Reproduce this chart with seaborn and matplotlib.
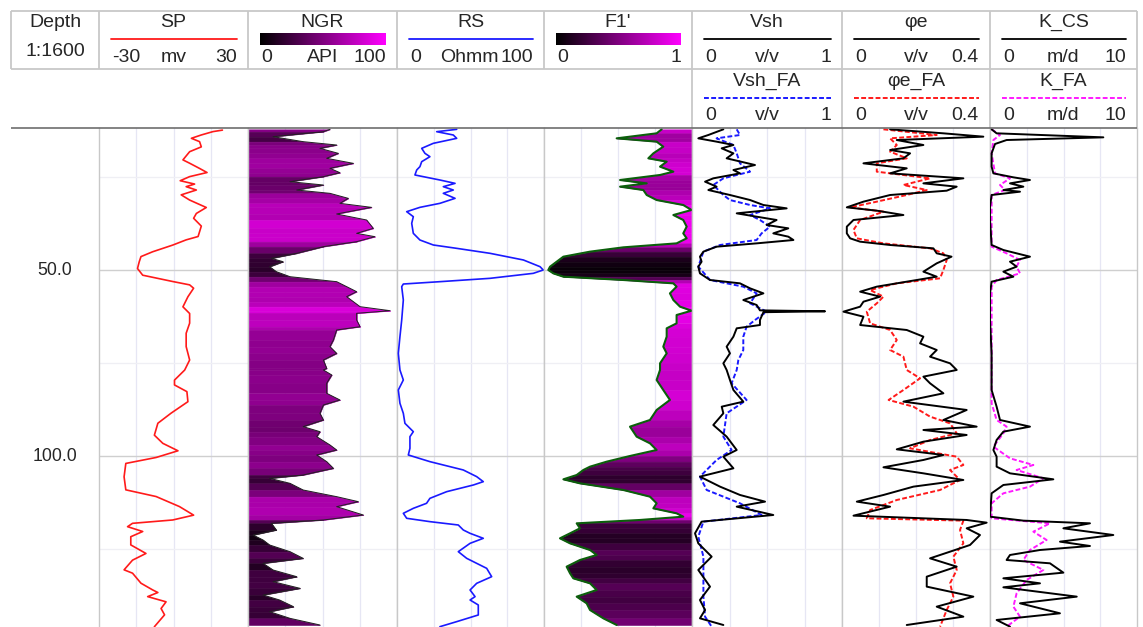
import numpy as np
import pandas as pd
import matplotlib
matplotlib.use("Agg")
import matplotlib.pyplot as plt
from matplotlib.colors import LinearSegmentedColormap, Normalize
import seaborn as sns

sns.set_theme(style="white")
plt.rcParams["font.family"] = ["Liberation Sans", "DejaVu Sans"]

# ---------------- log curves (depth in m) ----------------
sp_depth = [12.4, 12.8, 13.7, 14.6, 15.5, 16.9, 18.2, 20.4, 21.3, 22.7, 23.8, 24.9, 26.0, 26.9, 27.6,
            28.5, 29.8, 31.2, 33.2, 34.8, 36.1, 38.2, 41.0, 41.9, 43.3, 45.1, 46.4, 47.8, 49.6, 51.4,
            53.1, 54.0, 54.9, 57.2, 59.9, 61.7, 64.3, 67.0, 70.6, 74.2, 76.9, 79.6, 80.9, 82.7, 85.4,
            88.5, 91.2, 94.4, 96.6, 98.6, 100.4, 102.0, 105.6, 109.1, 110.9, 113.6, 115.9, 117.2, 118.1,
            119.0, 120.3, 121.7, 123.9, 126.2, 128.0, 130.6, 131.5, 134.2, 136.0, 136.7, 137.8, 139.2,
            141.0, 142.7, 145.9]
sp_mv = [19.7, 15.9, 11.2, 7.2, 10.5, 11.2, 6.5, 3.8, 6.5, 10.5, 13.5, 6.5, 2.7, 8.5, 5.1,
         9.2, 3.1, 6.5, 13.2, 9.2, 8.1, 11.2, 9.9, 5.1, -0.3, -8.4, -13.1, -13.8, -14.5, -12.4,
         -0.3, 6.5, 8.1, 5.8, 3.8, 6.5, 6.5, 5.1, 5.1, 6.5, 4.5, 0.4, 0.4, 5.4, 5.8,
         -1.0, -6.3, -7.7, -4.3, 1.8, -7.0, -19.2, -19.9, -19.2, -7.0, 2.4, 8.1, -0.3, -16.5,
         -18.5, -12.4, -17.2, -17.2, -11.1, -16.5, -19.9, -16.5, -13.1, -8.4, -6.3, -10.4, -3.0,
         -5.0, -3.6, -7.7]

ngr_depth = [12.19, 12.82, 14.16, 15.5, 16.4, 17.3, 18.64, 19.98, 21.33, 22.67, 23.84, 24.91, 26.26,
             27.15, 28.5, 29.39, 30.74, 32.08, 33.16, 34.95, 36.56, 38.8, 40.15, 41.04, 42.39, 43.73,
             45.52, 46.87, 47.76, 49.11, 50.45, 51.8, 53.14, 54.48, 55.83, 57.17, 58.52, 59.86, 60.94,
             61.65, 63.45, 65.24, 66.13, 68.82, 70.61, 72.41, 74.2, 76.44,
             76.88, 78.22, 80.46, 83.15, 84.94, 86.29, 88.53, 90.32, 92.11, 93.46, 94.8, 97.04, 98.39,
             99.73, 101.52, 103.31, 105.11, 106.0, 107.35, 109.14, 110.93, 112.27, 113.62, 115.86,
             117.2, 118.1, 119.89, 121.24, 122.58, 123.92, 125.72, 127.51, 128.85, 130.64, 132.44,
             133.78, 135.57, 137.37, 138.71, 140.5, 141.85, 143.64, 145.43]
ngr_api = [55.0, 50.6, 16.8, 37.0, 59.5, 48.3, 60.6, 52.8, 70.7, 55.0, 61.7, 50.6, 28.2,
           50.6, 32.7, 55.0, 67.3, 61.7, 82.9, 59.5, 79.6, 84.1, 72.9, 85.2, 72.9, 50.6,
           32.7, 15.7, 23.5, 14.5, 19.0, 28.2, 59.5, 66.2, 72.9, 66.2, 70.7, 75.2, 95.4,
           72.9, 72.9, 75.2, 59.5, 57.3, 55.0, 59.5, 50.6, 52.8,
           50.6, 56.2, 52.8, 52.8, 61.7, 50.6, 48.3, 50.6, 37.0, 48.3, 46.1, 55.0, 59.5,
           46.1, 52.8, 57.3, 37.0, 14.5, 28.2, 37.0, 59.5, 74.0, 59.5, 77.4,
           50.6, 15.7, 19.0, 3.4, 10.1, 14.5, 28.2, 37.0, 10.1, 16.8, 32.7,
           16.8, 34.9, 10.1, 21.2, 30.5, 14.5, 28.2, 48.3]

rs_depth = [12.19, 12.82, 13.71, 14.61, 15.95, 17.3, 18.64, 19.54, 20.88, 22.22, 23.12, 24.46, 25.81,
            26.71, 27.6, 28.5, 29.39, 30.74, 32.08, 33.16, 34.32, 35.67, 37.46, 40.15, 41.94, 43.28,
            44.18, 45.52, 47.31, 49.11, 50.0, 50.9, 52.24, 53.14, 53.77, 54.48, 58.07, 63.45, 67.92,
            72.41,
            76.88, 79.57, 82.26, 85.84, 88.53, 91.22, 93.46, 94.8, 97.94, 99.73, 101.52, 103.76,
            105.55, 106.9, 107.79, 109.59, 111.38, 112.72, 114.07, 115.41, 116.75, 117.65, 118.55,
            119.89, 120.79, 122.13, 123.48, 125.72, 127.51, 130.2, 132.44, 134.23, 136.02, 137.81,
            138.71, 140.05, 142.74, 144.53, 145.88]
rs_ohmm = [40.6, 27.0, 38.3, 40.6, 24.7, 16.8, 19.0, 22.4, 16.8, 15.6, 13.4, 12.2, 29.2,
           39.5, 31.5, 38.3, 31.5, 39.5, 29.2, 15.6, 6.6, 11.1, 10.0, 11.1, 15.6, 24.7,
           40.6, 63.3, 86.0, 97.3, 99.5, 92.7, 63.3, 29.2, 4.3, 3.2, 4.3, 3.2, 2.0,
           0.9,
           2.0, 4.3, 0.9, 2.0, 4.3, 5.4, 11.1, 8.8, 8.8, 7.7, 22.4, 45.1,
           54.2, 58.7, 52.0, 33.8, 22.4, 20.1, 11.1, 4.3, 6.6, 22.4, 41.7,
           45.1, 49.7, 58.7, 49.7, 41.7, 47.4, 61.0, 64.4, 54.2, 49.7, 53.1,
           49.7, 55.3, 55.3, 40.6, 29.2]

f1_depth = [12.19, 13.26, 14.61, 15.5, 16.85, 18.64, 19.98, 20.88, 22.22, 23.57, 24.46, 25.81, 26.71,
            27.6, 28.5, 29.84, 31.19, 32.53, 33.87, 35.22, 36.56, 38.35, 40.15, 41.49, 42.84, 43.91,
            45.07, 46.42, 47.76, 49.11, 50.0, 50.9, 51.8, 52.69, 53.59, 54.48, 56.28, 58.07, 59.86,
            60.94, 62.1, 64.34, 65.68, 67.92, 70.61, 72.41, 75.09,
            76.88, 79.57, 82.26, 84.94, 87.63, 90.32, 92.11, 94.8, 96.59, 98.39, 100.0, 101.52,
            102.87, 103.76, 105.11, 106.27, 107.35, 109.14, 110.93, 112.72, 114.07, 115.41, 116.31,
            117.2, 118.1, 119.44, 120.79, 122.13, 123.48, 125.27, 126.61, 127.96, 129.75, 131.54,
            132.88, 134.23, 136.02, 137.81, 139.6, 141.4, 143.64, 145.43]
f1_val = [0.795, 0.761, 0.491, 0.761, 0.806, 0.739, 0.705, 0.829, 0.784, 0.874, 0.784, 0.514, 0.694,
          0.514, 0.671, 0.694, 0.761, 0.941, 0.997, 0.874, 0.941, 0.964, 0.941, 0.964, 0.896, 0.536,
          0.311, 0.131, 0.086, 0.041, 0.029, 0.063, 0.131, 0.536, 0.874, 0.896, 0.851, 0.874, 0.919,
          0.997, 0.896, 0.896, 0.829, 0.829, 0.806, 0.829, 0.784,
          0.784, 0.761, 0.806, 0.851, 0.761, 0.716, 0.581, 0.626, 0.716, 0.761, 0.581, 0.424,
          0.311, 0.266, 0.221, 0.131, 0.243, 0.536, 0.716, 0.761, 0.739, 0.896, 0.941,
          0.649, 0.221, 0.243, 0.176, 0.108, 0.176, 0.311, 0.356, 0.243, 0.153, 0.176,
          0.198, 0.311, 0.356, 0.221, 0.288, 0.311, 0.401, 0.491]

vsh_depth = [12.19, 13.71, 14.61, 15.5, 16.4, 17.3, 18.64, 19.98, 21.78, 23.12, 24.02, 25.36, 26.26,
             27.6, 28.5, 29.84, 31.19, 32.53, 33.43, 34.77, 35.67, 36.56, 37.91, 38.8, 40.15, 41.04,
             41.94, 42.84, 43.73, 45.07, 46.42, 47.76, 49.11, 50.9, 52.69, 53.59, 54.93, 56.28, 58.07,
             59.41, 60.85, 61.1, 61.35, 63.45, 64.79, 65.68, 67.92, 70.61, 72.41, 75.09,
             76.88, 79.57, 82.26, 85.39, 86.74, 88.53, 91.67, 94.8, 98.39, 100.18, 103.31, 105.55,
             108.24, 110.48, 112.27, 113.62, 115.86, 117.65, 120.79, 123.48, 127.06, 130.64, 135.12,
             138.71, 141.4, 143.64, 145.43]
vsh_val = [0.209, 0.109, 0.042, 0.164, 0.276, 0.198, 0.276, 0.231, 0.42, 0.276, 0.32, 0.142, 0.087,
           0.164, 0.109, 0.253, 0.387, 0.476, 0.631, 0.298, 0.431, 0.564, 0.498, 0.642, 0.542, 0.642,
           0.676, 0.431, 0.164, 0.076, 0.053, 0.064, 0.042, 0.053, 0.12, 0.32, 0.387, 0.476, 0.342,
           0.431, 0.453, 0.887, 0.476, 0.453, 0.453, 0.298, 0.276, 0.231, 0.253, 0.209,
           0.231, 0.253, 0.276, 0.342, 0.198, 0.209, 0.142, 0.231, 0.298, 0.209, 0.276, 0.053,
           0.187, 0.32, 0.487, 0.298, 0.542, 0.064, 0.02, 0.042, 0.131, 0.042, 0.12,
           0.053, 0.087, 0.053, 0.209]

vshfa_depth = [12.19, 13.71, 14.61, 16.4, 18.64, 21.33, 23.57, 25.36, 27.15, 29.84, 31.19, 32.53,
               33.43, 35.22, 36.56, 38.35, 40.15, 41.94, 43.28, 45.07, 49.11, 52.69, 54.48, 56.28,
               58.96, 61.2, 63.45, 65.24, 67.92, 71.51, 74.2,
               76.88, 80.46, 84.94, 88.53, 94.8, 98.39, 101.07, 105.55, 109.14, 112.72, 115.86,
               117.65, 121.68, 127.06, 132.44, 137.81, 143.19, 145.88]
vshfa_val = [0.298, 0.32, 0.164, 0.276, 0.298, 0.32, 0.387, 0.209, 0.142, 0.209, 0.253, 0.387,
             0.52, 0.387, 0.453, 0.52, 0.464, 0.431, 0.187, 0.076, 0.042, 0.12, 0.342, 0.431,
             0.387, 0.498, 0.42, 0.364, 0.342, 0.342, 0.309,
             0.298, 0.264, 0.364, 0.231, 0.209, 0.264, 0.164, 0.053, 0.098, 0.32, 0.464,
             0.076, 0.042, 0.076, 0.076, 0.076, 0.087, 0.131]

phi_depth = [12.19, 13.26, 14.16, 15.06, 16.4, 17.74, 18.64, 19.98, 21.33, 22.67, 24.02, 25.36, 26.71,
             27.6, 28.68, 29.84, 31.63, 33.16, 34.05, 35.22, 36.56, 38.35, 40.15, 41.49, 42.39, 43.28,
             44.18, 45.52, 46.42, 48.21, 50.45, 51.8, 53.14, 54.48, 55.83, 57.17, 58.52, 59.86, 61.2,
             62.55, 64.79, 66.13, 67.92, 69.72, 71.51, 73.3, 75.09,
             76.88, 78.67, 80.46, 83.15, 85.39, 87.63, 90.32, 92.11, 93.01, 94.35, 96.15, 98.21,
             99.73, 101.07, 103.04, 104.66, 106.45, 108.24, 110.48, 112.27, 113.62, 116.04, 117.2,
             117.92, 119.44, 121.24, 123.92, 125.72, 127.51, 129.75, 132.44, 135.12, 137.81, 140.5,
             143.19, 145.43]
phi_val = [0.13, 0.274, 0.382, 0.148, 0.22, 0.13, 0.184, 0.166, 0.058, 0.175, 0.13, 0.328, 0.22,
           0.31, 0.283, 0.13, 0.058, 0.013, 0.094, 0.166, 0.031, 0.013, 0.013, 0.022, 0.049, 0.13,
           0.247, 0.256, 0.296, 0.256, 0.22, 0.256, 0.175, 0.094, 0.049, 0.103, 0.058, 0.049, 0.004,
           0.058, 0.049, 0.175, 0.22, 0.211, 0.256, 0.238, 0.292,
           0.31, 0.22, 0.238, 0.274, 0.166, 0.337, 0.274, 0.364, 0.22, 0.337, 0.22, 0.148,
           0.274, 0.22, 0.112, 0.22, 0.328, 0.193, 0.112, 0.04, 0.13, 0.031, 0.337,
           0.391, 0.337, 0.373, 0.346, 0.292, 0.238, 0.31, 0.229, 0.229, 0.355, 0.256,
           0.328, 0.175]

phifa_depth = [12.19, 13.71, 14.61, 16.4, 18.19, 19.98, 21.33, 23.57, 25.36, 27.15, 28.5, 29.84,
               31.63, 33.16, 34.32, 36.56, 39.25, 41.49, 42.84, 44.18, 45.52, 47.31, 50.0, 52.24,
               53.59, 55.38, 57.17, 58.96, 61.2, 64.34, 66.13, 68.82, 71.51, 73.3,
               76.88, 79.12, 82.26, 84.94, 86.74, 89.42, 91.22, 93.91, 95.7, 97.94, 100.18, 102.42,
               103.76, 106.45, 109.14, 111.83, 114.52, 116.75, 117.38, 119.89, 123.48, 127.06,
               130.64, 134.23, 137.81, 141.4, 145.88]
phifa_val = [0.112, 0.256, 0.13, 0.148, 0.13, 0.175, 0.094, 0.094, 0.238, 0.166, 0.229, 0.175,
             0.094, 0.022, 0.112, 0.049, 0.031, 0.04, 0.112, 0.238, 0.274, 0.283, 0.274, 0.265,
             0.148, 0.076, 0.112, 0.094, 0.067, 0.076, 0.13, 0.148, 0.13, 0.166,
             0.175, 0.211, 0.166, 0.126, 0.193, 0.238, 0.292, 0.31, 0.238, 0.184, 0.31, 0.328,
             0.292, 0.319, 0.265, 0.148, 0.076, 0.067, 0.328, 0.319, 0.328, 0.301,
             0.31, 0.292, 0.301, 0.283, 0.265]

kcs_depth = [12.19, 13.26, 14.34, 15.06, 16.13, 18.64, 22.22, 24.02, 25.09, 25.81, 26.71, 27.6, 28.5,
             28.95, 29.84, 32.98, 36.56, 43.28, 44.63, 45.52, 46.42, 47.76, 49.11, 50.45, 51.8, 53.14,
             56.28, 63.45, 72.41,
             76.88, 82.26, 86.74, 90.32, 92.11, 93.46, 95.7, 98.39, 100.18, 102.87, 104.66, 106.27,
             107.79, 110.03, 116.31, 117.38, 118.1, 119.44, 121.24, 123.03, 124.19, 125.27, 126.61,
             127.96, 128.85, 131.36, 132.88, 134.23, 135.3, 137.81, 139.6, 142.29, 144.08, 145.88]
kcs_val = [0.11, 0.45, 7.71, 1.13, 0.34, 0.11, 0.11, 0.23, 1.59, 2.72, 1.36, 2.27, 0.91,
           2.04, 0.11, 0.0, 0.0, 0.11, 0.91, 1.81, 2.72, 1.36, 1.81, 0.91, 1.59, 0.11,
           0.0, 0.0, 0.11,
           0.11, 0.11, 0.45, 0.68, 2.72, 0.91, 0.45, 0.23, 0.45, 0.45, 1.36, 4.31,
           0.91, 0.11, 0.0, 2.27, 6.8, 4.99, 8.39, 4.76, 6.8, 3.4, 1.36,
           1.13, 4.08, 4.99, 0.91, 3.4, 0.91, 5.9, 2.04, 4.76, 0.45, 1.36]

kfa_depth = [12.19, 13.71, 15.06, 18.64, 24.02, 25.36, 27.15, 28.5, 29.84, 43.73, 45.52, 47.31,
             49.11, 50.9, 52.69, 54.48,
             76.88, 85.84, 90.32, 92.11, 93.91, 97.49, 100.63, 102.42, 103.76, 106.0, 108.24,
             110.03, 112.72, 116.75, 118.1, 120.34, 122.58, 125.27, 127.96, 130.64, 133.33,
             136.92, 140.5, 143.19, 145.88]
kfa_val = [0.11, 0.68, 0.23, 0.11, 0.34, 1.36, 0.68, 1.02, 0.11, 0.11, 1.13, 2.04,
           1.81, 2.04, 0.45, 0.11,
           0.11, 0.11, 0.45, 1.13, 0.91, 0.23, 1.36, 2.95, 1.81, 3.63, 2.72,
           0.91, 0.11, 0.11, 4.08, 2.95, 3.85, 2.72, 2.27, 3.63, 2.49,
           1.81, 1.59, 2.04, 1.13]

depth_ticks = [50.0, 100.0]

# ---------------- layout (pixels) ----------------
W, H = 1143, 627
LOG_TOP, LOG_BOT = 128, 627
D_TOP, D_BOT = 11.83, 145.97
HDR_TOP, HDR_MID = 10.7, 69
BORDER = "#c8c8c8"
GRID = "#e6e6f4"
FS = 14
FS_DEPTH = 12.7

cmap_bm = LinearSegmentedColormap.from_list("black_magenta", ["#000000", "#ff00ff"])

fig = plt.figure(figsize=(W / 100, H / 100), dpi=100)
fig.patch.set_facecolor("white")

hdr = fig.add_axes([0, 0, 1, 1], zorder=5)
hdr.set_xlim(0, W)
hdr.set_ylim(H, 0)
hdr.axis("off")
hdr.patch.set_alpha(0)


def track_axes(x0, x1, lim):
    ax = fig.add_axes([x0 / W, 0, (x1 - x0) / W, (LOG_BOT - LOG_TOP) / H], zorder=1)
    ax.set_xlim(*lim)
    ax.set_ylim(D_BOT, D_TOP)
    for s in ("top", "bottom"):
        ax.spines[s].set_visible(False)
    for s in ("left", "right"):
        ax.spines[s].set_color(BORDER)
        ax.spines[s].set_linewidth(1.0)
    step = (lim[1] - lim[0]) / 4
    for k in (1, 2, 3):
        ax.axvline(lim[0] + k * step, color=GRID, lw=0.9, zorder=0)
    for d in (25, 75, 125):
        ax.axhline(d, color="#efeff4", lw=0.9, zorder=0)
    for d in depth_ticks:
        ax.axhline(d, color="#cfcfcf", lw=1.0, zorder=0)
    return ax


def curve(ax, depth, vals, color, lw, ls="-"):
    df = pd.DataFrame({"depth": depth, "val": vals})
    sns.lineplot(data=df, x="val", y="depth", orient="y", sort=False, estimator=None,
                 color=color, linewidth=lw, linestyle=ls, ax=ax, zorder=3,
                 solid_joinstyle="round", dash_joinstyle="round")
    ax.set_xlabel("")
    ax.set_ylabel("")
    ax.set_xticks([])
    ax.set_yticks([])


def banded_fill(ax, depth, vals, vmax, to_right=False):
    norm = Normalize(0, vmax)
    for i in range(len(depth) - 1):
        c = cmap_bm(norm((vals[i] + vals[i + 1]) / 2))
        edge = [vmax, vmax] if to_right else [0, 0]
        ax.fill_betweenx([depth[i], depth[i + 1]], edge, [vals[i], vals[i + 1]],
                         facecolor=c, edgecolor=c, lw=0.4, zorder=2)


# SP
ax_sp = track_axes(99, 248, (-30, 30))
curve(ax_sp, sp_depth, sp_mv, "#ff1a1a", 1.2)
ax_sp.set_xlim(-30, 30); ax_sp.set_ylim(D_BOT, D_TOP)

# NGR
ax_ngr = track_axes(248, 397, (0, 100))
banded_fill(ax_ngr, ngr_depth, ngr_api, 100)
curve(ax_ngr, ngr_depth, ngr_api, "#222222", 0.7)
ax_ngr.set_xlim(0, 100); ax_ngr.set_ylim(D_BOT, D_TOP)

# RS
ax_rs = track_axes(397, 544, (0, 100))
curve(ax_rs, rs_depth, rs_ohmm, "#1a1aff", 1.2)
ax_rs.set_xlim(0, 100); ax_rs.set_ylim(D_BOT, D_TOP)

# F1'
ax_f1 = track_axes(544, 692, (0, 1))
banded_fill(ax_f1, f1_depth, f1_val, 1.0, to_right=True)
curve(ax_f1, f1_depth, f1_val, "#0b5e0b", 1.5)
ax_f1.set_xlim(0, 1); ax_f1.set_ylim(D_BOT, D_TOP)

# Vsh
ax_v = track_axes(692, 842, (0, 1))
curve(ax_v, vshfa_depth, vshfa_val, "#1a1aff", 1.4, (0, (2.5, 1.2)))
curve(ax_v, vsh_depth, vsh_val, "black", 1.4)
ax_v.set_xlim(0, 1); ax_v.set_ylim(D_BOT, D_TOP)

# phi_e
ax_p = track_axes(842, 990, (0, 0.4))
curve(ax_p, phifa_depth, phifa_val, "#ff1a1a", 1.4, (0, (2.5, 1.2)))
curve(ax_p, phi_depth, phi_val, "black", 1.4)
ax_p.set_xlim(0, 0.4); ax_p.set_ylim(D_BOT, D_TOP)

# permeability
ax_k = track_axes(990, 1137, (0, 10))
curve(ax_k, kfa_depth, kfa_val, "#ff1aff", 1.4, (0, (2.5, 1.2)))
curve(ax_k, kcs_depth, kcs_val, "black", 1.4)
ax_k.set_xlim(0, 10); ax_k.set_ylim(D_BOT, D_TOP)

# ---------------- header ----------------
def hline(x0, x1, y, **kw):
    hdr.plot([x0, x1], [y, y], **kw)


def vline(x, y0, y1, **kw):
    hdr.plot([x, x], [y0, y1], **kw)


bkw = dict(color=BORDER, lw=1.3, solid_capstyle="butt")
hline(11, 1137, HDR_TOP, **bkw)
hline(11, 1137, HDR_MID, **bkw)
vline(11, HDR_TOP, HDR_MID, **bkw)
for x in (99, 248, 397, 544, 692, 842, 990, 1137):
    vline(x, HDR_TOP, HDR_MID, **bkw)
for x in (692, 842, 990, 1137):
    vline(x, HDR_MID, LOG_TOP, **bkw)
hline(11, 1137, LOG_TOP, color="#6e6e6e", lw=1.2, solid_capstyle="butt")

hdr.text(55, 22.5, "Depth", ha="center", va="center", fontsize=FS)
hdr.text(55, 51, "1:1600", ha="center", va="center", fontsize=FS)

header_rows = [
    # name, x0, x1, kind, colour, left, unit, right, row
    ("SP", 99, 248, "line", "#ff1a1a", "-30", "mv", "30", 0),
    ("NGR", 248, 397, "bar", None, "0", "API", "100", 0),
    ("RS", 397, 544, "line", "#1a1aff", "0", "Ohmm", "100", 0),
    ("F1'", 544, 692, "bar", None, "0", "", "1", 0),
    ("Vsh", 692, 842, "line", "black", "0", "v/v", "1", 0),
    ("φe", 842, 990, "line", "black", "0", "v/v", "0.4", 0),
    ("K_CS", 990, 1137, "line", "black", "0", "m/d", "10", 0),
    ("Vsh_FA", 692, 842, "dash", "#1a1aff", "0", "v/v", "1", 1),
    ("φe_FA", 842, 990, "dash", "#ff1a1a", "0", "v/v", "0.4", 1),
    ("K_FA", 990, 1137, "dash", "#ff1aff", "0", "m/d", "10", 1),
]
grad = np.linspace(0, 1, 256)[None, :]
for name, x0, x1, kind, col, left, unit, right, row in header_rows:
    off = 0 if row == 0 else 58.5
    lx0, lx1 = x0 + 12, x1 - 11
    xc = (x0 + x1) / 2
    hdr.text(xc, 22.5 + off, name, ha="center", va="center", fontsize=FS)
    if kind == "bar":
        hdr.imshow(grad, cmap=cmap_bm, aspect="auto", extent=[lx0, lx1, 45 + off, 33 + off],
                   zorder=2)
    elif kind == "line":
        hline(lx0, lx1, 39 + off, color=col, lw=1.3)
    else:
        hline(lx0, lx1, 39 + off, color=col, lw=1.4, linestyle=(0, (2.5, 1.2)))
    hdr.text(lx0 + 1, 57.5 + off, left, ha="left", va="center", fontsize=FS)
    if unit:
        hdr.text(xc + (-1 if unit == "Ohmm" else 0), 57.5 + off, unit, ha="center",
                 va="center", fontsize=FS)
    hdr.text(lx1, 57.5 + off, right, ha="right", va="center", fontsize=FS)

hdr.set_xlim(0, W)
hdr.set_ylim(H, 0)

# depth labels
y_of = lambda d: LOG_TOP + (d - D_TOP) / (D_BOT - D_TOP) * (LOG_BOT - LOG_TOP)
for d in depth_ticks:
    hdr.text(55, y_of(d) + 1, f"{d:.1f}", ha="center", va="center", fontsize=FS_DEPTH)

fig.savefig("out.png", dpi=100, facecolor="white")
